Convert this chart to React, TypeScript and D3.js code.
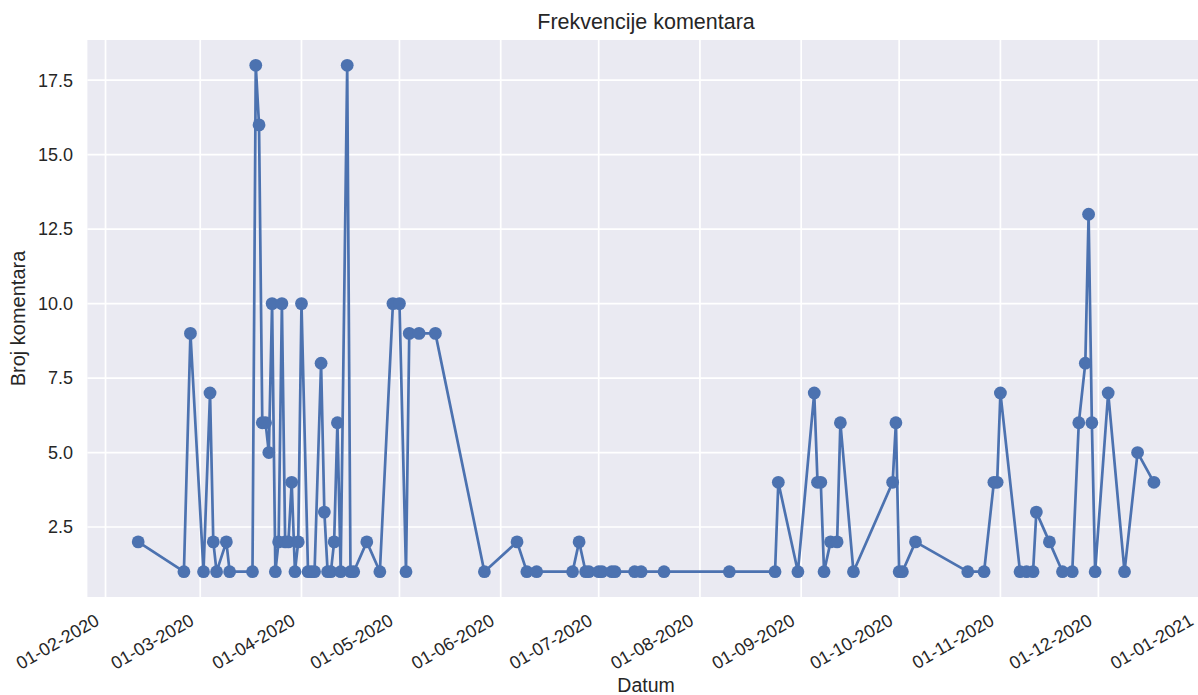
import * as d3 from 'd3';

const dates = [
  '2020-02-11', '2020-02-25', '2020-02-27', '2020-03-02', '2020-03-04', '2020-03-05', '2020-03-06',
  '2020-03-09', '2020-03-10', '2020-03-17', '2020-03-18', '2020-03-19', '2020-03-20', '2020-03-21',
  '2020-03-22', '2020-03-23', '2020-03-24', '2020-03-25', '2020-03-26', '2020-03-27', '2020-03-28',
  '2020-03-29', '2020-03-30', '2020-03-31', '2020-04-01', '2020-04-03', '2020-04-04', '2020-04-05',
  '2020-04-07', '2020-04-08', '2020-04-09', '2020-04-10', '2020-04-11', '2020-04-12', '2020-04-13',
  '2020-04-15', '2020-04-16', '2020-04-17', '2020-04-21', '2020-04-25', '2020-04-29', '2020-05-01',
  '2020-05-03', '2020-05-04', '2020-05-07', '2020-05-12', '2020-05-27', '2020-06-06', '2020-06-09',
  '2020-06-12', '2020-06-23', '2020-06-25', '2020-06-27', '2020-06-28', '2020-07-01', '2020-07-02',
  '2020-07-05', '2020-07-06', '2020-07-12', '2020-07-14', '2020-07-21', '2020-08-10', '2020-08-24',
  '2020-08-25', '2020-08-31', '2020-09-05', '2020-09-06', '2020-09-07', '2020-09-08', '2020-09-10',
  '2020-09-12', '2020-09-13', '2020-09-17', '2020-09-29', '2020-09-30', '2020-10-01', '2020-10-02',
  '2020-10-06', '2020-10-22', '2020-10-27', '2020-10-30', '2020-10-31', '2020-11-01', '2020-11-07',
  '2020-11-09', '2020-11-11', '2020-11-12', '2020-11-16', '2020-11-20', '2020-11-23', '2020-11-25',
  '2020-11-27', '2020-11-28', '2020-11-29', '2020-11-30', '2020-12-04', '2020-12-09', '2020-12-13',
  '2020-12-18',
];

const counts = [
  2, 1, 9, 1, 7, 2, 1,
  2, 1, 1, 18, 16, 6, 6,
  5, 10, 1, 2, 10, 2, 2,
  4, 1, 2, 10, 1, 1, 1,
  8, 3, 1, 1, 2, 6, 1,
  18, 1, 1, 2, 1, 10, 10,
  1, 9, 9, 9, 1, 2, 1,
  1, 1, 2, 1, 1, 1, 1,
  1, 1, 1, 1, 1, 1, 1,
  4, 1, 7, 4, 4, 1, 2,
  2, 6, 1, 4, 6, 1, 1,
  2, 1, 1, 4, 4, 7, 1,
  1, 1, 3, 2, 1, 1, 6,
  8, 13, 6, 1, 7, 1, 5,
  4,
];

const yTicks = [2.5, 5, 7.5, 10, 12.5, 15, 17.5];

const title = 'Frekvencije komentara';
const xLabel = 'Datum';
const yLabel = 'Broj komentara';

const W = 1198;
const H = 695;
const m = { left: 87.4, right: 1204.7, top: 40, bottom: 597 };
const blue = '#4C72B0';
const ink = '#262626';
const font = '"Liberation Sans", Arial, sans-serif';

const parse = d3.timeParse('%Y-%m-%d');

export default function App() {
  const data = dates.map((d, i) => ({ date: parse(d) as Date, value: counts[i] }));

  // same 5% padding matplotlib puts round the data
  const [x0, x1] = d3.extent(data, d => d.date) as [Date, Date];
  const xPad = (+x1 - +x0) * 0.05;
  const x = d3.scaleTime()
    .domain([new Date(+x0 - xPad), new Date(+x1 + xPad)])
    .range([m.left, m.right]);

  const [y0, y1] = d3.extent(data, d => d.value) as [number, number];
  const yPad = (y1 - y0) * 0.05;
  const y = d3.scaleLinear().domain([y0 - yPad, y1 + yPad]).range([m.bottom, m.top]);

  const xTicks = x.ticks(d3.timeMonth.every(1) as d3.TimeInterval);
  const fmt = d3.timeFormat('%d-%m-%Y');

  const line = d3.line<{ date: Date; value: number }>()
    .x(d => x(d.date))
    .y(d => y(d.value));

  return (
    <svg width={W} height={H} style={{ position: 'fixed', left: 0, top: 0, background: '#fff' }} fontFamily={font}>
      <rect x={m.left} y={m.top} width={m.right - m.left} height={m.bottom - m.top} fill="#EAEAF2" />
      {xTicks.map((t, i) => (
        <line key={'gx' + i} x1={x(t)} x2={x(t)} y1={m.top} y2={m.bottom} stroke="#fff" strokeWidth={1.7} />
      ))}
      {yTicks.map((t, i) => (
        <line key={'gy' + i} x1={m.left} x2={m.right} y1={y(t)} y2={y(t)} stroke="#fff" strokeWidth={1.7} />
      ))}

      <path d={line(data) ?? ''} fill="none" stroke={blue} strokeWidth={2.7} strokeLinejoin="round" />
      {data.map((d, i) => (
        <circle key={'p' + i} cx={x(d.date)} cy={y(d.value)} r={6.4} fill={blue} />
      ))}

      {yTicks.map((t, i) => (
        <text key={'ty' + i} x={73} y={y(t)} dy="0.35em" textAnchor="end" fontSize={18} fill={ink}>
          {t.toFixed(1)}
        </text>
      ))}
      {xTicks.map((t, i) => (
        <text key={'tx' + i} transform={`translate(${x(t) - 5},624) rotate(-30)`} textAnchor="end" fontSize={18} fill={ink}>
          {fmt(t)}
        </text>
      ))}

      <text x={(m.left + m.right) / 2} y={29} textAnchor="middle" fontSize={21.5} fill={ink}>{title}</text>
      <text x={(m.left + m.right) / 2} y={692} textAnchor="middle" fontSize={19.5} fill={ink}>{xLabel}</text>
      <text transform={`translate(25,${(m.top + m.bottom) / 2}) rotate(-90)`} textAnchor="middle" fontSize={20} fill={ink}>{yLabel}</text>
    </svg>
  );
}
